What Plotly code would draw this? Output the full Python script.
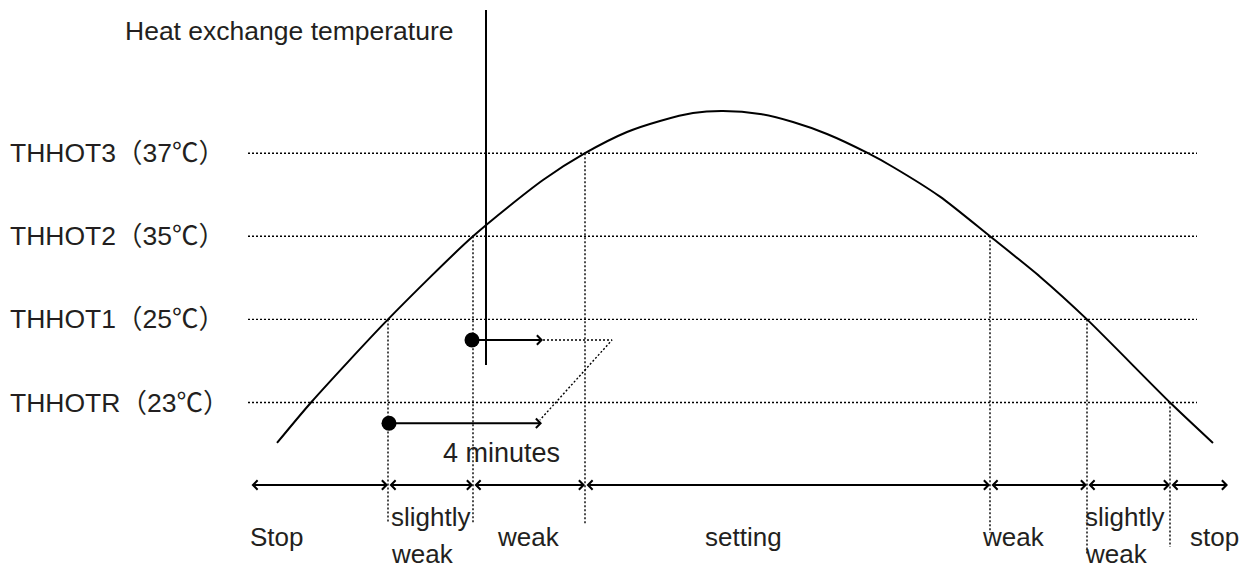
import plotly.graph_objects as go

# ---------------- data ----------------
# threshold levels (schematic vertical scale: THHOTR=0 ... THHOT3=3)
level_labels = ["THHOTR（23℃）", "THHOT1（25℃）", "THHOT2（35℃）", "THHOT3（37℃）"]
level_values = [0, 1, 2, 3]

# heat exchange temperature curve (time units, level units)
curve_time = [277, 311, 388, 473, 543, 585, 627, 660, 693, 723, 760, 793,
              827, 868, 893, 940, 990, 1040, 1087, 1170, 1213]
curve_level = [-0.487, 0.0, 1.0, 2.0, 2.677, 3.0, 3.255, 3.388, 3.484,
               3.508, 3.472, 3.375, 3.231, 3.0, 2.834, 2.477, 2.0, 1.514,
               1.0, 0.0, -0.487]

# crossing times where the curve meets a threshold, and that threshold
cross_time = [388, 473, 585, 990, 1087, 1170]
cross_level = [1, 2, 3, 2, 1, 0]
cross_bottom = [-1.45, -1.45, -1.47, -1.57, -1.835, -1.74]

# operating zones along the time axis
zone_edges = [250, 388, 473, 585, 990, 1087, 1170, 1228]
zone_labels = ["Stop", "slightly<br>weak", "weak", "setting", "weak",
               "slightly<br>weak", "stop"]
zone_label_x = [249, 390, 496, 704, 981, 1084, 1189]

# 4-minute delay markers
delay_start_time = [389, 472]
delay_level = [-0.25, 0.752]
delay_end_time = [542, 543]
delay_dotted_end = 612
delay_link_end = (540, -0.21)

# ---------------- layout constants ----------------
W, H = 1248, 568
PAGE = 8                      # default body margin of the html page
PX0, PXK = 402.5, 83.1        # screen y of level 0, pixels per level
def lvl(py):
    return (PX0 - py) / PXK

ROW = lvl(485)
ONE_LINE_Y = lvl(537)
TWO_LINE_Y = (lvl(517), lvl(554))
SENSOR_X, SENSOR_TOP, SENSOR_BOT = 486, lvl(10), lvl(365)
LINE_X0, LINE_X1 = 248, 1197
FONT = "Liberation Sans, Arial, Noto Sans CJK SC, sans-serif"
TXT = "#231f20"
DOT = "2px,2px"
LW = 1.4
FS = 26.5
FS_ZONE = 26

fig = go.Figure()

# horizontal threshold lines
for lv in level_values:
    fig.add_trace(go.Scatter(x=[LINE_X0, LINE_X1], y=[lv, lv], mode="lines",
                             line=dict(color="black", width=LW, dash=DOT),
                             hoverinfo="skip", showlegend=False))

# vertical dotted lines at crossings
for t, lv, b in zip(cross_time, cross_level, cross_bottom):
    fig.add_trace(go.Scatter(x=[t, t], y=[lv, b], mode="lines",
                             line=dict(color="black", width=LW, dash=DOT),
                             hoverinfo="skip", showlegend=False))

# temperature curve
fig.add_trace(go.Scatter(x=curve_time, y=curve_level, mode="lines",
                         line=dict(color="black", width=2, shape="spline", smoothing=0.7),
                         hoverinfo="skip", showlegend=False))

# sensor vertical line
fig.add_trace(go.Scatter(x=[SENSOR_X, SENSOR_X], y=[SENSOR_TOP, SENSOR_BOT], mode="lines",
                         line=dict(color="black", width=2),
                         hoverinfo="skip", showlegend=False))

# dotted continuation and link of the delay markers
fig.add_trace(go.Scatter(x=[delay_end_time[1], delay_dotted_end, delay_link_end[0]],
                         y=[delay_level[1], delay_level[1], delay_link_end[1]],
                         mode="lines", line=dict(color="black", width=LW, dash=DOT),
                         hoverinfo="skip", showlegend=False))

# delay start dots
fig.add_trace(go.Scatter(x=delay_start_time, y=delay_level, mode="markers",
                         marker=dict(color="black", size=15),
                         hoverinfo="skip", showlegend=False))

annotations = []
# delay arrows
for t0, t1, lv in zip(delay_start_time, delay_end_time, delay_level):
    annotations.append(dict(x=t1, y=lv, ax=t0, ay=lv, xref="x", yref="y",
                            axref="x", ayref="y", showarrow=True, text="",
                            arrowhead=4, arrowsize=1.0, arrowwidth=1.8,
                            arrowcolor="black"))

# zone double arrows
for a, b in zip(zone_edges[:-1], zone_edges[1:]):
    annotations.append(dict(x=b, y=ROW, ax=a, ay=ROW, xref="x", yref="y",
                            axref="x", ayref="y", showarrow=True, text="",
                            arrowside="end+start", arrowhead=4, startarrowhead=4,
                            arrowsize=1.0, startarrowsize=1.0, arrowwidth=1.8,
                            arrowcolor="black"))

# zone labels
for lab, x in zip(zone_labels, zone_label_x):
    parts = lab.split("<br>")
    ys = [ONE_LINE_Y] if len(parts) == 1 else list(TWO_LINE_Y)
    for part, y in zip(parts, ys):
        annotations.append(dict(x=x, y=y, xref="x", yref="y", text=part,
                                showarrow=False, xanchor="left", yanchor="middle",
                                borderpad=0,
                                font=dict(family=FONT, size=FS_ZONE, color=TXT)))

# threshold labels
for lab, lv in zip(level_labels, level_values):
    annotations.append(dict(x=8, y=lv, xref="x", yref="y", text=lab,
                            showarrow=False, xanchor="left", yanchor="middle",
                            font=dict(family=FONT, size=FS, color=TXT)))

# titles
annotations.append(dict(x=456, y=lvl(31), xref="x", yref="y",
                        text="Heat exchange temperature", showarrow=False,
                        xanchor="right", yanchor="middle",
                        font=dict(family=FONT, size=FS, color=TXT)))
annotations.append(dict(x=501, y=lvl(453), xref="x", yref="y", text="4 minutes",
                        showarrow=False, xanchor="center", yanchor="middle",
                        font=dict(family=FONT, size=27, color=TXT)))

fig.update_layout(
    width=W, height=H, margin=dict(l=0, r=0, t=0, b=0),
    paper_bgcolor="white", plot_bgcolor="white",
    xaxis=dict(range=[PAGE, W + PAGE], visible=False, fixedrange=True),
    yaxis=dict(range=[lvl(H + PAGE), lvl(PAGE)], visible=False, fixedrange=True),
    annotations=annotations, showlegend=False,
)

fig.write_html("out.html")
